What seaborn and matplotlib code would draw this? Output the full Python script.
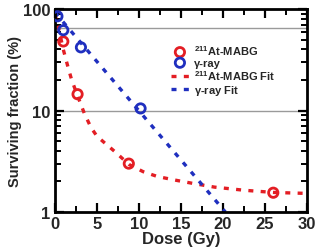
import numpy as np
import pandas as pd
import matplotlib
matplotlib.use('Agg')
import matplotlib.pyplot as plt
import matplotlib.ticker as mticker
import seaborn as sns

# measured points
at_dose = [1.0, 2.7, 8.8, 26.0]
at_surv = [48, 14.5, 3.0, 1.55]
gamma_dose = [0.3, 1.0, 3.1, 10.2]
gamma_surv = [85, 62, 42, 10.5]

# fit curves
at_fit_dose = [0, 0.5, 1.0, 1.5, 2.0, 2.7, 3.5, 4.3, 5.0, 5.8, 7.2, 8.8, 10.5, 12.2, 14.5, 16.5, 19.0, 22.5, 26.0, 29.5]
at_fit_surv = [90, 62, 40, 28, 20, 14.0, 9.4, 6.8, 5.6, 4.9, 3.9, 2.95, 2.5, 2.24, 2.05, 1.91, 1.76, 1.64, 1.56, 1.53]
gamma_fit_dose = [0, 20.3]
gamma_fit_surv = [93, 1.0]

ref_lines = [65, 10]

red = '#e31e24'
blue = '#1f2fbf'

sns.set_style('ticks')
plt.rcParams['font.family'] = ['Liberation Sans', 'DejaVu Sans']
plt.rcParams['font.weight'] = 'bold'
plt.rcParams['mathtext.fontset'] = 'custom'
plt.rcParams['mathtext.bf'] = 'Liberation Sans:bold'
plt.rcParams['mathtext.rm'] = 'Liberation Sans:bold'
plt.rcParams['mathtext.default'] = 'bf'

fig = plt.figure(figsize=(3.21, 2.53), dpi=100)
ax = fig.add_axes([0.171, 0.158, 0.785, 0.802])

for r in ref_lines:
    ax.axhline(r, color='#9a9a9a', lw=1.0, zorder=0)

fit_at = pd.DataFrame({'dose': at_fit_dose, 'surv': at_fit_surv})
fit_g = pd.DataFrame({'dose': gamma_fit_dose, 'surv': gamma_fit_surv})
sns.lineplot(data=fit_at, x='dose', y='surv', ax=ax, color=red, lw=2.4,
             linestyle=(0, (1.5, 2.2)), sort=False, label=r'$^{211}$At-MABG Fit', legend=False)
sns.lineplot(data=fit_g, x='dose', y='surv', ax=ax, color=blue, lw=2.4,
             linestyle=(0, (1.5, 2.2)), sort=False, label=r'$\gamma$-ray Fit', legend=False)

pts_at = pd.DataFrame({'dose': at_dose, 'surv': at_surv})
pts_g = pd.DataFrame({'dose': gamma_dose, 'surv': gamma_surv})
sns.scatterplot(data=pts_at, x='dose', y='surv', ax=ax, marker='o', s=45,
                facecolor='none', edgecolor=red, linewidth=2, label=r'$^{211}$At-MABG', zorder=5)
sns.scatterplot(data=pts_g, x='dose', y='surv', ax=ax, marker='o', s=45,
                facecolor='none', edgecolor=blue, linewidth=2, label='γ-ray', zorder=5)

ax.set_yscale('log')
ax.set_xlim(0, 30)
ax.set_ylim(1, 100)
ax.xaxis.set_major_locator(mticker.MultipleLocator(5))
ax.xaxis.set_minor_locator(mticker.MultipleLocator(2.5))
ax.yaxis.set_major_locator(mticker.FixedLocator([1, 10, 100]))
ax.yaxis.set_minor_locator(mticker.LogLocator(base=10, subs=np.arange(2, 10), numticks=20))
ax.yaxis.set_major_formatter(mticker.FixedFormatter(['1', '10', '100']))
ax.yaxis.set_minor_formatter(mticker.NullFormatter())
ax.tick_params(which='both', direction='in', top=True, right=True, width=1.6,
               color='black', labelsize=12, pad=3)
ax.tick_params(which='major', length=6.5)
ax.tick_params(which='minor', length=4.5, width=1.4)
for s in ax.spines.values():
    s.set_linewidth(2)
    s.set_color('black')
ax.set_xlabel('Dose (Gy)', fontsize=12, fontweight='bold', labelpad=0)
ax.set_ylabel('Surviving fraction (%)', fontsize=10.5, fontweight='bold', labelpad=1)

h, l = ax.get_legend_handles_labels()
order = [2, 3, 0, 1]
ax.legend([h[i] for i in order], [l[i] for i in order], loc='upper left',
          bbox_to_anchor=(0.43, 0.87), frameon=False, fontsize=8,
          handlelength=1.6, handletextpad=0.5, labelspacing=0.05, borderpad=0.2)

fig.savefig('out.png', dpi=100)
